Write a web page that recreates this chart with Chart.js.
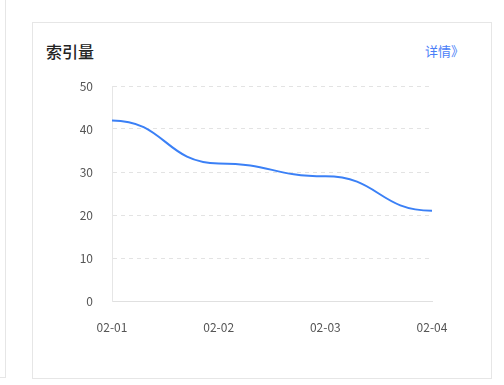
<!DOCTYPE html>
<html>
<head>
<meta charset="utf-8">
<script src="https://cdn.jsdelivr.net/npm/chart.js@4"></script>
<style>
  html, body { margin: 0; padding: 0; background: #fff; width: 504px; height: 385px; overflow: hidden; }
  body { position: relative; font-family: "Noto Sans CJK SC", "Noto Sans", sans-serif; }
  .side { position: absolute; left: -10px; top: -2px; width: 16px; height: 380px; border: 1px solid #e6e6e6; border-top: none; box-sizing: border-box; }
  .card { position: absolute; left: 32px; top: 22px; width: 460px; height: 357px; border: 1px solid #e6e6e6; box-sizing: border-box; }
  .title { position: absolute; left: 46px; top: 39px; font-size: 16px; line-height: 24px; color: #222; font-weight: 500; }
  .more { position: absolute; left: 425px; top: 42px; font-size: 13px; line-height: 18px; color: #4a7ef7; }
  #indexChart { position: absolute; left: 40px; top: 70px; }
</style>
</head>
<body>
<div class="side"></div>
<div class="card"></div>
<div class="title">索引量</div>
<div class="more">详情》</div>
<canvas id="indexChart" width="420" height="271"></canvas>
<script>
const labels = ['02-01', '02-02', '02-03', '02-04'];
const indexValues = [42, 32, 29, 21];
const yTicks = [0, 10, 20, 30, 40, 50];

// flat tangents at every point, like the original smooth line
const flatCurve = {
    id: 'flatCurve',
    beforeDatasetDraw(chart, args) {
        const pts = args.meta.data;
        pts.forEach((p, i) => {
            const prev = pts[i - 1] || p;
            const next = pts[i + 1] || p;
            p.cp1x = p.x - (p.x - prev.x) * 0.5;
            p.cp1y = p.y;
            p.cp2x = p.x + (next.x - p.x) * 0.5;
            p.cp2y = p.y;
        });
        args.meta.dataset._pointsUpdated = true;
        args.meta.dataset._path = undefined;
    }
};

const ctx = document.getElementById('indexChart').getContext('2d');
Chart.defaults.font.family = "'Noto Sans CJK SC', 'Noto Sans', sans-serif";
Chart.defaults.color = '#555';

new Chart(ctx, {
    type: 'line',
    data: {
        labels: labels,
        datasets: [{
            label: '索引量',
            data: indexValues,
            borderColor: '#3b80f6',
            borderWidth: 2,
            fill: false,
            tension: 0.4,
            pointRadius: 0,
            pointHoverRadius: 0
        }]
    },
    plugins: [flatCurve],
    options: {
        responsive: false,
        animation: false,
        layout: { padding: { top: 16, right: 28, bottom: 0, left: 0 } },
        scales: {
            x: {
                offset: false,
                grid: { display: false, drawTicks: false },
                border: { display: true, color: '#e0e0e0', width: 1 },
                ticks: { padding: 19, font: { size: 12 }, color: '#555', maxRotation: 0 },
                afterFit: function(scale) {
                    scale.height = 40;
                    scale.paddingLeft = 0;
                    scale.paddingRight = 16;
                }
            },
            y: {
                min: yTicks[0],
                max: yTicks[yTicks.length - 1],
                afterBuildTicks: function(scale) { scale.ticks = yTicks.map(v => ({ value: v })); },
                grid: { color: '#e3e3e3', drawTicks: false },
                border: { display: true, color: '#e6e6e6', width: 1, dash: [4, 4] },
                ticks: { padding: 19, font: { size: 12 }, color: '#555' },
                afterFit: function(scale) {
                    scale.width = 72;
                    scale.paddingTop = 7;
                    scale.paddingBottom = 0;
                }
            }
        },
        plugins: {
            legend: { display: false },
            tooltip: { enabled: false }
        }
    }
});
</script>
</body>
</html>
